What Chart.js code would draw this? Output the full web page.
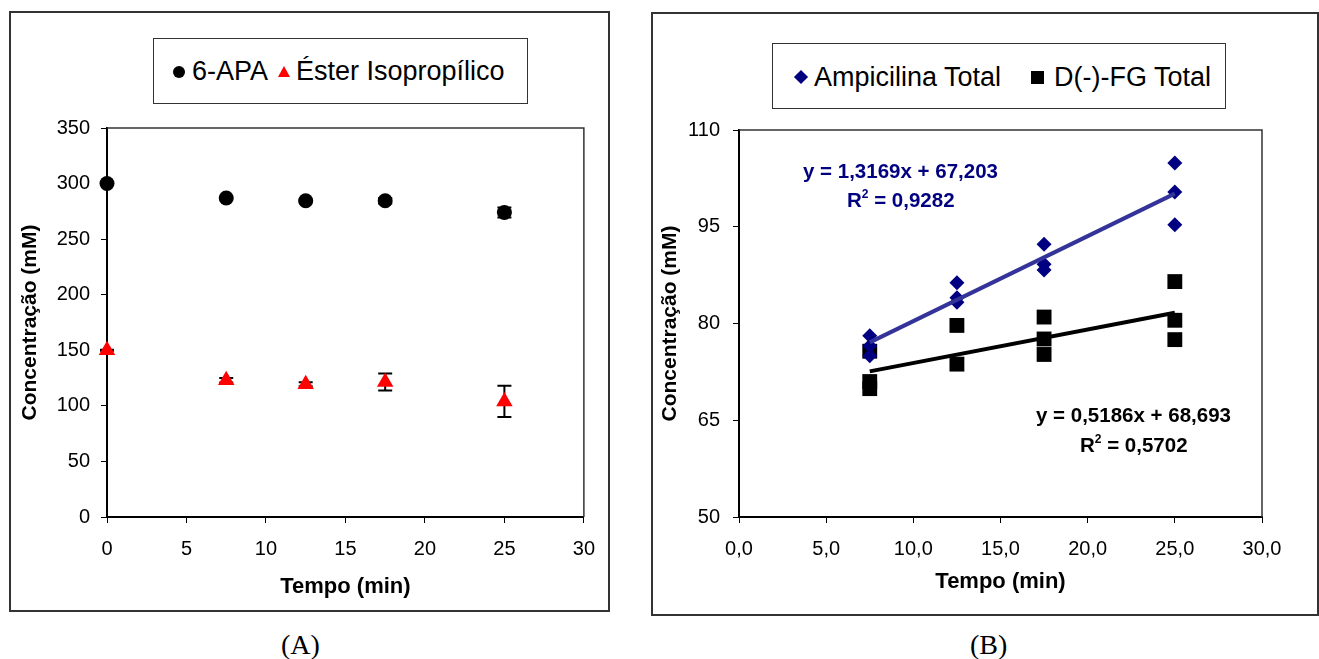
<!DOCTYPE html>
<html><head><meta charset="utf-8">
<script src="https://cdn.jsdelivr.net/npm/chart.js@4.4.0/dist/chart.umd.min.js"></script>
<style>
body{margin:0;background:#fff;width:1319px;height:659px;position:relative;overflow:hidden;font-family:"Liberation Sans",Arial,sans-serif;}
.panel{position:absolute;border:2px solid #333;box-sizing:border-box;}
canvas{position:absolute;}
.legend{position:absolute;border:1px solid #333;background:#fff;box-sizing:border-box;}
.legend span.t{position:absolute;font-size:27px;line-height:30px;color:#000;white-space:nowrap;}
.mk{position:absolute;}
.eq{position:absolute;font-weight:bold;font-size:20.5px;line-height:24px;white-space:nowrap;}
.eq sup{font-size:12px;vertical-align:9px;line-height:0;}
.cap{position:absolute;font-family:"Liberation Serif","Times New Roman",serif;font-size:28px;line-height:32px;}
</style>
</head><body>
<div class="panel" style="left:9px;top:11px;width:601px;height:601px;"></div>
<div class="panel" style="left:651px;top:12px;width:668px;height:604px;"></div>
<canvas id="cA" width="600" height="600" style="left:9px;top:11px;"></canvas>
<canvas id="cB" width="666" height="603" style="left:652px;top:12px;"></canvas>

<div class="legend" style="left:153px;top:38px;width:375px;height:66px;">
  <div class="mk" style="left:19px;top:27px;width:12px;height:12px;border-radius:50%;background:#000;"></div>
  <span class="t" style="left:38px;top:17px;">6-APA</span>
  <div class="mk" style="left:124px;top:27px;width:0;height:0;border-left:6px solid transparent;border-right:6px solid transparent;border-bottom:11px solid #ff0000;"></div>
  <span class="t" style="left:142px;top:17px;">Éster Isopropílico</span>
</div>
<div class="legend" style="left:772px;top:43px;width:454px;height:66px;">
  <div class="mk" style="left:23px;top:28px;width:10px;height:10px;background:#000080;transform:rotate(45deg);"></div>
  <span class="t" style="left:41px;top:18px;">Ampicilina Total</span>
  <div class="mk" style="left:258px;top:27px;width:13px;height:13px;background:#000;"></div>
  <span class="t" style="left:281px;top:18px;">D(-)-FG Total</span>
</div>

<div class="eq" style="left:803px;top:159px;color:#000080;">y = 1,3169x + 67,203</div>
<div class="eq" style="left:847px;top:188px;color:#000080;">R<sup>2</sup> = 0,9282</div>
<div class="eq" style="left:1036px;top:403px;color:#000;">y = 0,5186x + 68,693</div>
<div class="eq" style="left:1080px;top:433px;color:#000;">R<sup>2</sup> = 0,5702</div>

<div class="cap" style="left:281px;top:629px;">(A)</div>
<div class="cap" style="left:970px;top:629px;">(B)</div>

<script>
// ---- Panel A data ----
const tempoA = [0, 7.5, 12.5, 17.5, 25];
const apa = [300, 287, 284.5, 284.5, 274];
const apaErr = [0.8, 1, 1, 2.5, 4.5];
const ester = [150, 123, 119.5, 121.5, 104];
const esterErr = [0.5, 2, 1.8, 7.6, 14];
const ticksA_x = [0, 5, 10, 15, 20, 25, 30];
const ticksA_y = [0, 50, 100, 150, 200, 250, 300, 350];

// ---- Panel B data ----
const tempoAmp = [7.5, 7.5, 7.5, 12.5, 12.5, 12.5, 17.5, 17.5, 17.5, 25, 25, 25];
const ampicilina = [78.1, 76.5, 75.0, 86.3, 84.0, 83.3, 92.3, 89.2, 88.3, 104.9, 100.4, 95.3];
const tempoFG = [7.5, 7.5, 7.5, 12.5, 12.5, 17.5, 17.5, 17.5, 25, 25, 25];
const fg = [75.7, 71.0, 69.9, 79.7, 73.7, 81.0, 77.6, 75.2, 86.5, 80.5, 77.5];
const trendX = [7.5, 25];
const ampTrend = [77.08, 100.13];
const fgTrend = [72.58, 81.66];
const ticksB_x = [0, 5, 10, 15, 20, 25, 30];
const ticksB_y = [50, 65, 80, 95, 110];

const FONT = '"Liberation Sans", Arial, sans-serif';
Chart.defaults.font.family = FONT;
Chart.defaults.color = '#000';

const pts = (xs, ys) => xs.map((x, i) => ({x, y: ys[i]}));

const errorBars = {
  id: 'errorBars',
  beforeDatasetsDraw(chart) {
    const {ctx, scales: {x, y}} = chart;
    ctx.save();
    ctx.strokeStyle = '#000';
    ctx.lineWidth = 2;
    chart.data.datasets.forEach(ds => {
      if (!ds.err) return;
      ds.data.forEach((p, i) => {
        const e = ds.err[i];
        const px = x.getPixelForValue(p.x);
        const t = y.getPixelForValue(p.y + e);
        const b = y.getPixelForValue(p.y - e);
        ctx.beginPath();
        ctx.moveTo(px, t); ctx.lineTo(px, b);
        ctx.moveTo(px - 7, t); ctx.lineTo(px + 7, t);
        ctx.moveTo(px - 7, b); ctx.lineTo(px + 7, b);
        ctx.stroke();
      });
    });
    ctx.restore();
  }
};

const frame = {
  id: 'frame',
  beforeDatasetsDraw(chart) {
    const {ctx, chartArea: a} = chart;
    ctx.save();
    ctx.strokeStyle = '#333';
    ctx.lineWidth = 1.5;
    ctx.beginPath();
    ctx.moveTo(a.left, a.top); ctx.lineTo(a.right, a.top); ctx.lineTo(a.right, a.bottom);
    ctx.stroke();
    ctx.restore();
  }
};

function axisX(tickVals, fmt, yW, xH, tickPad, titlePadBottom) {
  return {
    type: 'linear', position: 'bottom', min: tickVals[0], max: tickVals[tickVals.length - 1],
    afterBuildTicks: s => { s.ticks = tickVals.map(v => ({value: v})); },
    afterFit: s => { s.height = xH; },
    ticks: {font: {size: 20}, padding: tickPad, maxRotation: 0, autoSkip: false, callback: fmt, color: '#000'},
    grid: {display: true, drawOnChartArea: false, drawTicks: true, tickLength: 6, color: '#000', lineWidth: 1},
    border: {display: true, color: '#000', width: 2},
    title: {display: true, text: 'Tempo (min)', font: {size: 22, weight: 'bold'}, color: '#000', padding: {top: 0, bottom: titlePadBottom}}
  };
}
function axisY(tickVals, yW, tickPad, titlePadTop) {
  return {
    type: 'linear', position: 'left', min: tickVals[0], max: tickVals[tickVals.length - 1],
    afterBuildTicks: s => { s.ticks = tickVals.map(v => ({value: v})); },
    afterFit: s => { s.width = yW; },
    ticks: {font: {size: 20}, padding: tickPad, autoSkip: false, color: '#000', callback: v => String(v)},
    grid: {display: true, drawOnChartArea: false, drawTicks: true, tickLength: 6, color: '#000', lineWidth: 1},
    border: {display: true, color: '#000', width: 2},
    title: {display: true, text: 'Concentração (mM)', font: {size: 21, weight: 'bold'}, color: '#000', padding: {top: titlePadTop, bottom: 0}}
  };
}

new Chart(document.getElementById('cA'), {
  type: 'scatter',
  data: {
    datasets: [
      {label: '6-APA', data: pts(tempoA, apa), err: apaErr, pointStyle: 'circle', pointRadius: 7.5, pointHoverRadius: 7.5,
       backgroundColor: '#000', borderColor: '#000', borderWidth: 0, clip: false},
      {label: 'Éster Isopropílico', data: pts(tempoA, ester), err: esterErr, pointStyle: 'triangle', pointRadius: 9.5, pointHoverRadius: 9.5,
       backgroundColor: '#ff0000', borderColor: '#ff0000', borderWidth: 0, clip: false}
    ]
  },
  options: {
    responsive: false, animation: false, devicePixelRatio: 1,
    layout: {padding: {left: 0, right: 24, top: 117, bottom: 0}},
    plugins: {legend: {display: false}, tooltip: {enabled: false}},
    scales: {
      x: axisX(ticksA_x, v => String(v), 98, 94, 14, 11),
      y: axisY(ticksA_y, 98, 11, 9)
    }
  },
  plugins: [frame, errorBars]
});

new Chart(document.getElementById('cB'), {
  type: 'scatter',
  data: {
    datasets: [
      {label: 'trendAmp', data: pts(trendX, ampTrend), showLine: true, borderColor: '#333399', borderWidth: 4, pointRadius: 0, order: 0, clip: false},
      {label: 'trendFG', data: pts(trendX, fgTrend), showLine: true, borderColor: '#000', borderWidth: 4, pointRadius: 0, order: 1, clip: false},
      {label: 'Ampicilina Total', data: pts(tempoAmp, ampicilina), pointStyle: 'rectRot', pointRadius: 7.5, pointHoverRadius: 7.5,
       backgroundColor: '#000080', borderColor: '#000080', borderWidth: 0, order: 2, clip: false},
      {label: 'D(-)-FG Total', data: pts(tempoFG, fg), pointStyle: 'rect', pointRadius: 10.5, pointHoverRadius: 10.5,
       backgroundColor: '#000', borderColor: '#000', borderWidth: 0, order: 3, clip: false}
    ]
  },
  options: {
    responsive: false, animation: false, devicePixelRatio: 1,
    layout: {padding: {left: 0, right: 56, top: 118, bottom: 0}},
    plugins: {legend: {display: false}, tooltip: {enabled: false}},
    scales: {
      x: axisX(ticksB_x, v => Number(v).toFixed(1).replace('.', ','), 87, 98, 14, 20),
      y: axisY(ticksB_y, 87, 13, 6)
    }
  },
  plugins: [frame]
});
</script>
</body></html>
